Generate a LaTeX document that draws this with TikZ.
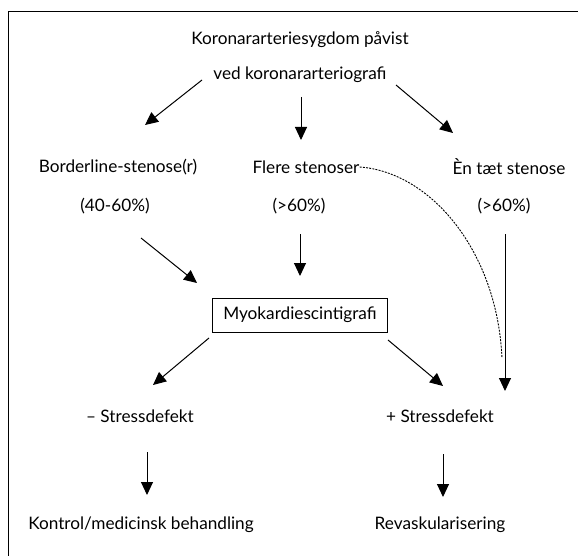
\documentclass[tikz,border=0pt]{standalone}
\usepackage{fontspec}
\setmainfont{Lato}
\usetikzlibrary{arrows.meta, positioning}
\tikzset{
  txt/.style      = {font=\fontsize{17.2}{20}\selectfont, inner sep=0pt},
  boxed/.style    = {txt, draw, line width=0.9pt, minimum width=175pt,
                     minimum height=34pt},
  flow/.style     = {-{Triangle[length=13pt,width=12pt]}, line width=1pt},
  hint/.style     = {line width=0.9pt, dash pattern=on 2pt off 1.2pt},
}

\begin{document}
\begin{tikzpicture}[x=1pt, y=-1pt]
  \useasboundingbox (0,0) rectangle (578,556);
  % frame (only top and left edges show)
  \draw[line width=1pt] (578,12) -- (8,12) -- (8,556);

  % texts
  \node[txt] (kad)  at (300,40)  {Koronararteriesygdom påvist};
  \node[txt] (ved)  at (300,75)  {ved koronararteriografi};
  \node[txt] (bl)   at (118,167) {Borderline-stenose(r)};
  \node[txt] (fl)   at (306,167) {Flere stenoser};
  \node[txt] (en)   at (509,167) {Èn tæt stenose};
  \node[txt] (blp)  at (115,206) {(40-60\%)};
  \node[txt] (flp)  at (299,206) {(>60\%)};
  \node[txt] (enp)  at (504,206) {(>60\%)};
  \node[boxed] (myo) at (300,315) {Myokardiescintigrafi};
  \node[txt] (neg)  at (140,416) {– Stressdefekt};
  \node[txt] (pos)  at (440,416) {+ Stressdefekt};
  \node[txt] (ktr)  at (141,525) {Kontrol/medicinsk behandling};
  \node[txt] (rev)  at (440,525) {Revaskularisering};

  % arrow ends
  \coordinate (a1) at (202,80);  \coordinate (b1) at (145,125);
  \coordinate (a2) at (301,97);  \coordinate (b2) at (301,140);
  \coordinate (a3) at (396,85);  \coordinate (b3) at (453,133);
  \coordinate (a4) at (141,238); \coordinate (b4) at (197,283);
  \coordinate (a5) at (300,234); \coordinate (b5) at (300,276);
  \coordinate (a6) at (505,234); \coordinate (b6) at (505,391);
  \coordinate (a7) at (209,338); \coordinate (b7) at (153,385);
  \coordinate (a8) at (388,340); \coordinate (b8) at (443,386);
  \coordinate (a9) at (147,452); \coordinate (b9) at (147,495);
  \coordinate (a10) at (443,454); \coordinate (b10) at (443,497);
  \coordinate (dz) at (502,358);

  \foreach \s/\e in {a1/b1, a2/b2, a3/b3, a4/b4, a5/b5, a6/b6,
                     a7/b7, a8/b8, a9/b9, a10/b10}
    \draw[flow] (\s) -- (\e);

  \draw[hint] (fl.east) .. controls (430,172) and (497,250) .. (dz);
\end{tikzpicture}
\end{document}
